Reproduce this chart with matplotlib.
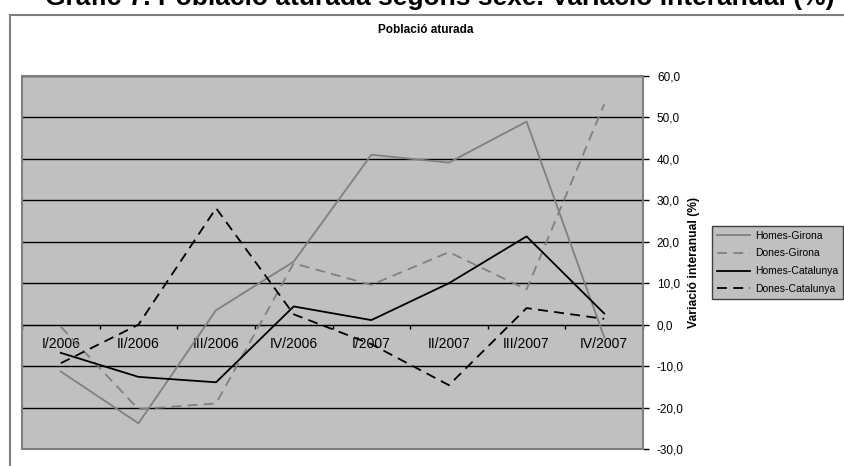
import matplotlib.pyplot as plt
from matplotlib.lines import Line2D
from matplotlib.patches import Rectangle

plt.rcParams['font.family'] = ['Liberation Sans', 'DejaVu Sans']

# quarters and year-on-year change (%) of unemployed population
quarters = ["I/2006", "II/2006", "III/2006", "IV/2006",
            "I/2007", "II/2007", "III/2007", "IV/2007"]
homes_girona = [-11.3, -23.8, 3.5, 15.2, 41.0, 39.1, 49.0, -3.0]
dones_girona = [-0.5, -20.4, -19.0, 14.8, 9.6, 17.5, 8.5, 53.2]
homes_catalunya = [-6.8, -12.6, -13.9, 4.4, 1.1, 10.0, 21.3, 2.7]
dones_catalunya = [-9.3, 0.0, 28.1, 2.5, -4.7, -14.6, 4.0, 1.4]
yticks = [-30, -20, -10, 0, 10, 20, 30, 40, 50, 60]

fig = plt.figure(figsize=(8.45, 4.66), dpi=100)
W, H = 845, 466

# outer chart frame (partly cut off)
fig.add_artist(Line2D([10 / W, 10 / W], [0, 1 - 14.5 / H], transform=fig.transFigure,
                      color="#808080", lw=1.5))
fig.add_artist(Line2D([10 / W, 1], [1 - 14.5 / H, 1 - 14.5 / H], transform=fig.transFigure,
                      color="#808080", lw=1.5))

# main title, cut off at the top of the picture
fig.text(440 / W, 1 - 4.5 / H,
         "Gràfic 7. Població aturada segons sexe. Variació interanual (%)",
         fontsize=19, fontweight="bold", ha="center", va="baseline")
fig.text(426 / W, 1 - 30 / H, "Població aturada", fontsize=8.5,
         fontweight="bold", ha="center", va="center")

ax = fig.add_axes([22 / W, 17 / H, 621 / W, 373 / H])
ax.set_facecolor("#C0C0C0")

x = [i + 0.5 for i in range(len(quarters))]
ax.plot(x, homes_girona, color="#808080", lw=1.3, label="Homes-Girona", zorder=3)
ax.plot(x, dones_girona, color="#808080", lw=1.3, dashes=(5.5, 3.5),
        label="Dones-Girona", zorder=3)
ax.plot(x, homes_catalunya, color="black", lw=1.3, label="Homes-Catalunya", zorder=3)
ax.plot(x, dones_catalunya, color="black", lw=1.3, dashes=(5.5, 3.5),
        label="Dones-Catalunya", zorder=3)

ax.set_xlim(0, 8)
ax.set_ylim(-30, 60)
ax.set_yticks(yticks)
ax.set_yticklabels([f"{v:.1f}".replace(".", ",") for v in yticks], fontsize=8.5)
ax.yaxis.tick_right()
ax.yaxis.set_label_position("right")
ax.tick_params(axis="y", direction="out", length=4, width=1, pad=6)
ax.set_ylabel("Variació interanual (%)", fontsize=8.7, fontweight="bold", labelpad=3)

for v in yticks:
    ax.axhline(v, color="black", lw=1.0, zorder=1)

ax.set_xticks(range(9))
ax.set_xticklabels([])
ax.set_xticks(x, minor=True)
ax.set_xticklabels(quarters, minor=True, fontsize=8)
ax.tick_params(axis="x", which="major", direction="out", length=3, width=1)
ax.tick_params(axis="x", which="minor", length=0, pad=9)

ax.spines["bottom"].set_position(("data", 0))
ax.spines["bottom"].set_zorder(2)
ax.spines["right"].set_linewidth(1.2)
ax.spines["top"].set_visible(False)
ax.spines["left"].set_visible(False)
ax.add_patch(Rectangle((0, 0), 1, 1, transform=ax.transAxes, fill=False,
                       edgecolor="#808080", lw=1.5, clip_on=False, zorder=4))

leg = ax.legend(loc="upper left", bbox_to_anchor=(712 / W, 1 - 226 / H),
                bbox_transform=fig.transFigure, fontsize=7.5, frameon=True,
                fancybox=False, framealpha=1, edgecolor="#404040",
                facecolor="#C0C0C0", handlelength=3.2, handletextpad=0.45,
                borderpad=0.45, labelspacing=0.75, borderaxespad=0)
leg.get_frame().set_linewidth(1)

fig.savefig("out.png", dpi=100)
